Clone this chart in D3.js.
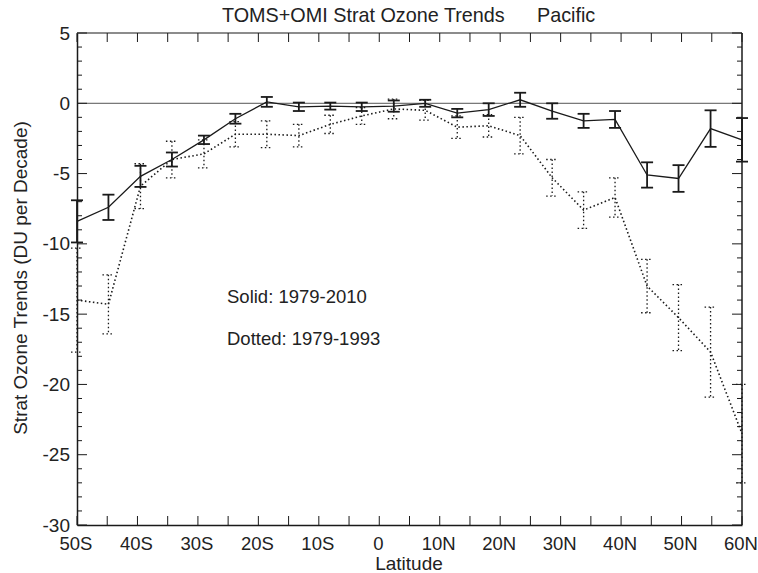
<!DOCTYPE html>
<html>
<head>
<meta charset="utf-8">
<script src="https://cdn.jsdelivr.net/npm/d3@7"></script>
<style>
  body { margin: 0; background: #fff; }
  text { font-family: "Liberation Sans", Arial, sans-serif; fill: #222; }
</style>
</head>
<body>
<svg width="758" height="573"></svg>
<script>
// latitude of each bin (deg, S negative)
var lats = [-50, -44.8, -39.5, -34.3, -29.0, -23.8, -18.6, -13.3, -8.1, -2.9, 2.4,
            7.6, 12.9, 18.1, 23.3, 28.6, 33.8, 39.0, 44.3, 49.5, 54.8, 60];

// Solid: 1979-2010
var solid    = [-8.4, -7.4, -5.2, -4.0, -2.6, -1.1, 0.1, -0.25, -0.2, -0.25, -0.2,
                0.0, -0.7, -0.45, 0.25, -0.55, -1.25, -1.15, -5.1, -5.35, -1.8, -2.6];
var solidErr = [1.5, 0.9, 0.75, 0.5, 0.3, 0.35, 0.35, 0.3, 0.25, 0.3, 0.4,
                0.25, 0.3, 0.45, 0.5, 0.55, 0.5, 0.6, 0.9, 0.95, 1.3, 1.55];

// Dotted: 1979-1993
var dotted    = [-14.0, -14.3, -5.9, -4.0, -3.6, -2.2, -2.2, -2.3, -1.5, -0.9, -0.4,
                 -0.5, -1.7, -1.6, -2.3, -5.3, -7.6, -6.7, -13.0, -15.25, -17.7, -23.5];
var dottedErr = [3.7, 2.1, 1.6, 1.3, 1.0, 0.9, 0.95, 0.8, 0.65, 0.6, 0.7,
                 0.7, 0.8, 0.8, 1.3, 1.3, 1.3, 1.4, 1.9, 2.35, 3.2, 3.5];

var xTicks = [-50, -40, -30, -20, -10, 0, 10, 20, 30, 40, 50, 60];
var xTickLabels = ["50S", "40S", "30S", "20S", "10S", "0", "10N", "20N", "30N", "40N", "50N", "60N"];
var yTicks = [5, 0, -5, -10, -15, -20, -25, -30];

var svg = d3.select("svg"),
    margin = {top: 33, right: 16, bottom: 48, left: 77},
    width = +svg.attr("width") - margin.left - margin.right,
    height = +svg.attr("height") - margin.top - margin.bottom,
    g = svg.append("g").attr("transform", "translate(" + margin.left + "," + margin.top + ")");

var x = d3.scaleLinear().domain([-50, 60]).range([0, width]);
var y = d3.scaleLinear().domain([-30, 5]).range([height, 0]);

var ink = "#1a1a1a";
var fs = 19;

// zero line
g.append("line")
    .attr("x1", 0).attr("x2", width)
    .attr("y1", y(0)).attr("y2", y(0))
    .attr("stroke", "#555").attr("stroke-width", 1);

// axes: ticks point inward on all four sides
var xMinor = d3.range(-50, 61, 5);
var yMinor = d3.range(-30, 6, 1);

g.append("g")
    .attr("transform", "translate(0," + height + ")")
    .call(d3.axisBottom(x).tickValues(xTicks).tickSizeInner(0).tickSizeOuter(0)
        .tickFormat(function(d, i) { return xTickLabels[i]; }).tickPadding(12))
    .call(function(a) {
        a.selectAll("text").attr("font-size", 18.5).attr("dx", "-1.5").attr("fill", "#222");
        a.select(".domain").attr("stroke", ink).attr("stroke-width", 1.5);
    });

g.append("g")
    .call(d3.axisLeft(y).tickValues(yTicks).tickSizeInner(0).tickSizeOuter(0).tickPadding(7)
        .tickFormat(function(d) { return String(d); }))
    .call(function(a) {
        a.selectAll("text").attr("font-size", fs).attr("fill", "#222");
        a.select(".domain").attr("stroke", ink).attr("stroke-width", 1.5);
    });

// frame top and right
g.append("line").attr("x1", 0).attr("x2", width).attr("y1", 0).attr("y2", 0)
    .attr("stroke", ink).attr("stroke-width", 1.2);
g.append("line").attr("x1", width).attr("x2", width).attr("y1", 0).attr("y2", height)
    .attr("stroke", ink).attr("stroke-width", 1.5);

// x ticks top and bottom
xMinor.forEach(function(d) {
    g.append("line").attr("x1", x(d)).attr("x2", x(d)).attr("y1", height).attr("y2", height - 9)
        .attr("stroke", ink).attr("stroke-width", 1);
    g.append("line").attr("x1", x(d)).attr("x2", x(d)).attr("y1", 0).attr("y2", 9)
        .attr("stroke", ink).attr("stroke-width", 1);
});
// y ticks left and right
yMinor.forEach(function(d) {
    var len = (d % 5 === 0) ? 10 : 5;
    g.append("line").attr("x1", 0).attr("x2", len).attr("y1", y(d)).attr("y2", y(d))
        .attr("stroke", ink).attr("stroke-width", 1);
    g.append("line").attr("x1", width).attr("x2", width - len).attr("y1", y(d)).attr("y2", y(d))
        .attr("stroke", ink).attr("stroke-width", 1);
});

function drawSeries(vals, errs, dash, lineW, barW) {
    var pts = lats.map(function(d, i) { return {lat: d, v: vals[i], e: errs[i]}; });
    var line = d3.line()
        .x(function(d) { return x(d.lat); })
        .y(function(d) { return y(d.v); });

    g.append("path")
        .datum(pts)
        .attr("fill", "none")
        .attr("stroke", ink)
        .attr("stroke-width", lineW)
        .attr("stroke-dasharray", dash)
        .attr("d", line);

    var bars = g.append("g").selectAll("g").data(pts).enter().append("g")
        .attr("stroke", ink)
        .attr("stroke-width", barW)
        .attr("stroke-dasharray", dash);
    bars.append("line")
        .attr("x1", function(d) { return x(d.lat); })
        .attr("x2", function(d) { return x(d.lat); })
        .attr("y1", function(d) { return y(d.v + d.e); })
        .attr("y2", function(d) { return y(d.v - d.e); });
    [1, -1].forEach(function(s) {
        bars.append("line")
            .attr("x1", function(d) { return x(d.lat) - 6; })
            .attr("x2", function(d) { return x(d.lat) + 6; })
            .attr("y1", function(d) { return y(d.v + s * d.e); })
            .attr("y2", function(d) { return y(d.v + s * d.e); });
    });
}

drawSeries(dotted, dottedErr, "1.5,2.5", 1.6, 1.3);
drawSeries(solid, solidErr, null, 1.3, 1.8);

// labels
svg.append("text")
    .attr("x", 222).attr("y", 22)
    .attr("font-size", 19.8)
    .text("TOMS+OMI Strat Ozone Trends");
svg.append("text")
    .attr("x", 537).attr("y", 22)
    .attr("font-size", 19.8)
    .text("Pacific");

svg.append("text")
    .attr("x", 409).attr("y", 570)
    .attr("text-anchor", "middle")
    .attr("font-size", fs)
    .text("Latitude");

svg.append("text")
    .attr("transform", "translate(27,278) rotate(-90)")
    .attr("text-anchor", "middle")
    .attr("font-size", fs)
    .text("Strat Ozone Trends (DU per Decade)");

g.append("text")
    .attr("x", 150).attr("y", 270)
    .attr("font-size", 18.5)
    .attr("fill", "#333")
    .text("Solid: 1979-2010");

g.append("text")
    .attr("x", 150).attr("y", 312)
    .attr("font-size", 18.5)
    .attr("fill", "#333")
    .text("Dotted: 1979-1993");
</script>
</body>
</html>
